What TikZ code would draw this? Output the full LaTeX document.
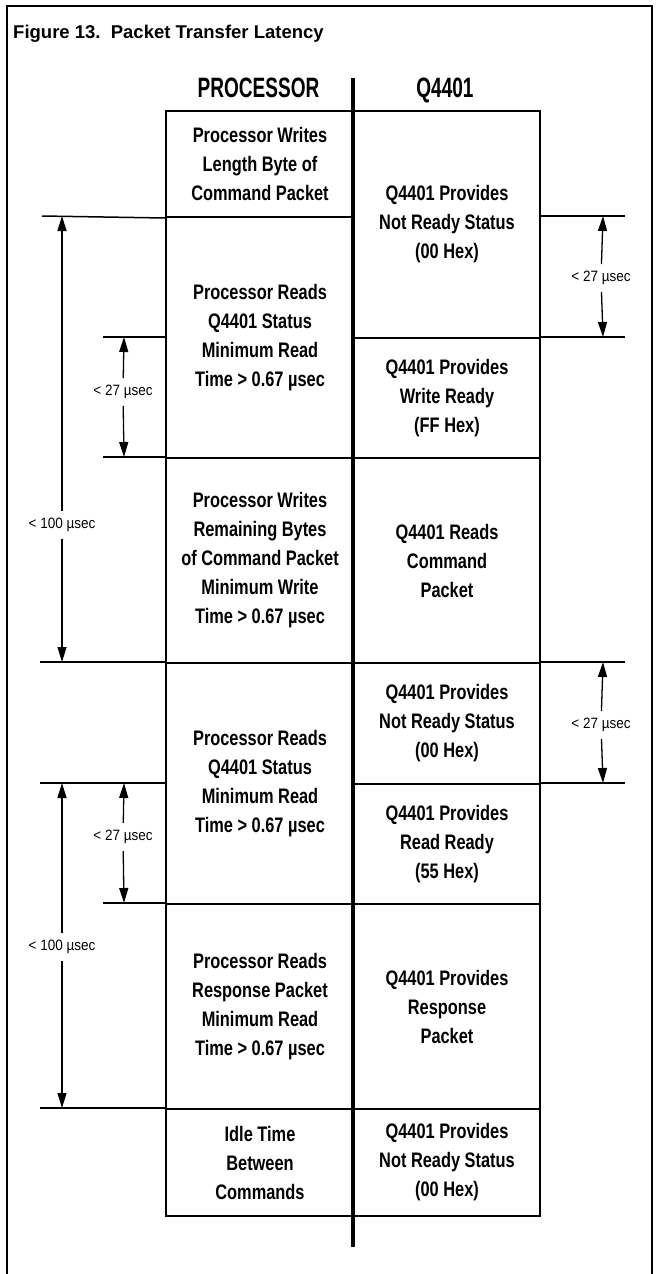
\documentclass[tikz,border=0pt]{standalone}
\usepackage{fontspec}
\usetikzlibrary{arrows.meta}
\setmainfont{Liberation Sans}
\newfontfamily\cellfont{Liberation Sans}[FakeStretch=0.78]
\newfontfamily\headfont{Liberation Sans}[FakeStretch=0.68]
\newfontfamily\dimfont{Liberation Sans}[FakeStretch=0.9]
\newfontfamily\titlefont{Liberation Sans}[FakeStretch=1.0]
\begin{document}
\begin{tikzpicture}[x=1pt,y=-1pt,
  cell/.style={draw, line width=2pt, minimum width=188pt, inner sep=0pt,
    align=center, anchor=north west,
    font=\cellfont\bfseries\fontsize{21}{29}\selectfont},
  head/.style={anchor=base, inner sep=0pt, font=\headfont\bfseries\fontsize{28}{32}\selectfont},
  dimlabel/.style={inner xsep=2pt, inner ysep=7pt, font=\dimfont\fontsize{15}{18}\selectfont},
  dimarrow/.style={line width=1.3pt, -{Triangle[length=15pt,width=9pt]}},
  ext/.style={line width=1.5pt},
  frame/.style={line width=1.5pt},
  divider/.style={line width=4.5pt}
]
\useasboundingbox (0,0) rectangle (656,1274);

% frame
\coordinate (fbl) at (7,1274);
\coordinate (ftl) at (7,6);
\coordinate (ftr) at (652,6);
\coordinate (fbr) at (652,1274);
\draw[frame] (fbl) -- (ftl) -- (ftr) -- (fbr);

% title
\node[anchor=base west, inner sep=0pt, font=\titlefont\bfseries\fontsize{18.5}{20}\selectfont] (title) at (13,38) {Figure 13.\ \ Packet Transfer Latency};

% headers
\node[head] (hproc) at (258.5,97) {PROCESSOR};
\node[head] (hq) at (445,97) {Q4401};

% left column cells
\node[cell, minimum height=106pt] (L1) at (165,110) {Processor Writes\\Length Byte of\\Command Packet};
\node[cell, minimum height=241pt] (L2) at (165,216) {Processor Reads\\Q4401 Status\\Minimum Read\\Time > 0.67 µsec};
\node[cell, minimum height=205pt] (L3) at (165,457) {Processor Writes\\Remaining Bytes\\of Command Packet\\Minimum Write\\Time > 0.67 µsec};
\node[cell, minimum height=241pt] (L4) at (165,662) {Processor Reads\\Q4401 Status\\Minimum Read\\Time > 0.67 µsec};
\node[cell, minimum height=205pt] (L5) at (165,903) {Processor Reads\\Response Packet\\Minimum Read\\Time > 0.67 µsec};
\node[cell, minimum height=107pt] (L6) at (165,1108) {Idle Time\\Between\\Commands};

% right column cells
\node[cell, minimum width=186pt, minimum height=227pt] (R1) at (353,110) {Q4401 Provides\\Not Ready Status\\(00 Hex)};
\node[cell, minimum width=186pt, minimum height=120pt] (R2) at (353,337) {Q4401 Provides\\Write Ready\\(FF Hex)};
\node[cell, minimum width=186pt, minimum height=205pt] (R3) at (353,457) {Q4401 Reads\\Command\\Packet};
\node[cell, minimum width=186pt, minimum height=121pt] (R4) at (353,662) {Q4401 Provides\\Not Ready Status\\(00 Hex)};
\node[cell, minimum width=186pt, minimum height=120pt] (R5) at (353,783) {Q4401 Provides\\Read Ready\\(55 Hex)};
\node[cell, minimum width=186pt, minimum height=205pt] (R6) at (353,903) {Q4401 Provides\\Response\\Packet};
\node[cell, minimum width=186pt, minimum height=107pt] (R7) at (353,1108) {Q4401 Provides\\Not Ready Status\\(00 Hex)};

% centre divider
\coordinate (ctop) at (353,78);
\coordinate (cbot) at (353,1247);
\draw[divider] (ctop) -- (cbot);

% extension lines, left
\coordinate (e1) at (42,216);
\coordinate (e2) at (103,337);
\coordinate (e3) at (103,457);
\coordinate (e4) at (40,662);
\coordinate (e5) at (40,783);
\coordinate (e6) at (103,903);
\coordinate (e7) at (40,1108);
\draw[ext] (e1) -- (L1.south west);
\draw[ext] (e2) -- (165,337);
\draw[ext] (e3) -- (L3.north west);
\draw[ext] (e4) -- (L4.north west);
\draw[ext] (e5) -- (165,783);
\draw[ext] (e6) -- (L5.north west);
\draw[ext] (e7) -- (L6.north west);

% extension lines, right
\coordinate (r1) at (625,216);
\coordinate (r2) at (625,337);
\coordinate (r3) at (625,662);
\coordinate (r4) at (625,783);
\draw[ext] (539,216) -- (r1);
\draw[ext] (R2.north east) -- (r2);
\draw[ext] (R4.north east) -- (r3);
\draw[ext] (R5.north east) -- (r4);

% big arrows (< 100 usec)
\coordinate (b1t) at (62,216);
\coordinate (b1b) at (62,662);
\node[dimlabel] (b1l) at (62,525) {< 100 µsec};
\draw[dimarrow] (b1l) -- (b1t);
\draw[dimarrow] (b1l) -- (b1b);

\coordinate (b2t) at (62,783);
\coordinate (b2b) at (62,1108);
\node[dimlabel] (b2l) at (62,947) {< 100 µsec};
\draw[dimarrow] (b2l) -- (b2t);
\draw[dimarrow] (b2l) -- (b2b);

% small left arrows (< 27 usec)
\coordinate (s1t) at (124,337);
\coordinate (s1b) at (124,457);
\node[dimlabel] (s1l) at (123,392) {< 27 µsec};
\draw[dimarrow] (s1l) -- (s1t);
\draw[dimarrow] (s1l) -- (s1b);

\coordinate (s2t) at (124,783);
\coordinate (s2b) at (124,903);
\node[dimlabel] (s2l) at (123,837) {< 27 µsec};
\draw[dimarrow] (s2l) -- (s2t);
\draw[dimarrow] (s2l) -- (s2b);

% right arrows (< 27 usec)
\coordinate (t1t) at (603,216);
\coordinate (t1b) at (603,337);
\node[dimlabel] (t1l) at (601,278) {< 27 µsec};
\draw[dimarrow] (t1l) -- (t1t);
\draw[dimarrow] (t1l) -- (t1b);

\coordinate (t2t) at (603,662);
\coordinate (t2b) at (603,783);
\node[dimlabel] (t2l) at (601,725) {< 27 µsec};
\draw[dimarrow] (t2l) -- (t2t);
\draw[dimarrow] (t2l) -- (t2b);
\end{tikzpicture}
\end{document}
